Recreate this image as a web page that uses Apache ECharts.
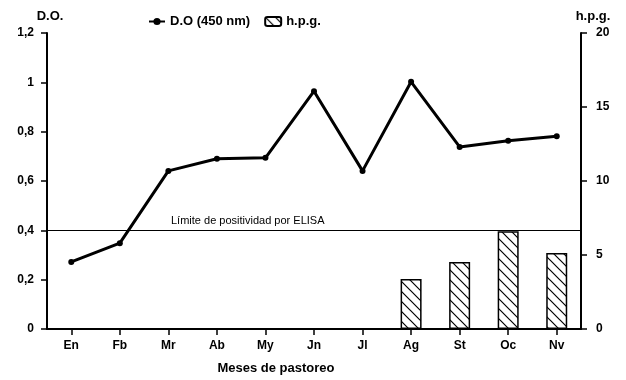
<!DOCTYPE html>
<html>
<head>
<meta charset="utf-8">
<script src="https://cdn.jsdelivr.net/npm/echarts@6/dist/echarts.min.js"></script>
<style>html,body{margin:0;padding:0;background:#fff}#c{width:626px;height:380px}</style>
</head>
<body>
<div id="c"></div>
<script>
const categories = ['En','Fb','Mr','Ab','My','Jn','Jl','Ag','St','Oc','Nv'];
const doValues = [0.272, 0.348, 0.641, 0.690, 0.694, 0.964, 0.641, 1.002, 0.738, 0.763, 0.781];
const hpgValues = [null, null, null, null, null, null, null, 3.37, 4.52, 6.6, 5.14];
const leftTicks = {min: 0, max: 1.2, interval: 0.2};
const rightTicks = {min: 0, max: 20, interval: 5};
const limitValue = 0.4;

const pc = document.createElement('canvas');
pc.width = 10; pc.height = 10;
const g = pc.getContext('2d');
g.fillStyle = '#fff'; g.fillRect(0,0,10,10);
g.strokeStyle = '#000'; g.lineWidth = 1.2;
g.beginPath();
g.moveTo(0,0); g.lineTo(10,10);
g.moveTo(-2,8); g.lineTo(2,12);
g.moveTo(8,-2); g.lineTo(12,2);
g.stroke();

const FONT = '"Liberation Sans", Arial, sans-serif';
const chart = echarts.init(document.getElementById('c'), null, {renderer: 'canvas'});
const axisCommon = {
  axisLine: {show: true, lineStyle: {color: '#000', width: 2}},
  axisTick: {show: true, length: 6, lineStyle: {color: '#000', width: 1.5}},
  splitLine: {show: false}
};
chart.setOption({
  animation: false,
  textStyle: {fontFamily: FONT},
  grid: {left: 47, right: 45, top: 33, bottom: 46, containLabel: false},
  legend: {
    top: 10, left: 143, itemGap: 14, itemWidth: 16, itemHeight: 9,
    textStyle: {fontFamily: FONT, fontWeight: 'bold', fontSize: 13, color: '#000'},
    data: [{name: 'D.O (450 nm)'}, {name: 'h.p.g.'}]
  },
  xAxis: {
    type: 'category', data: categories, boundaryGap: true,
    name: 'Meses de pastoreo', nameLocation: 'middle', nameGap: 33,
    nameTextStyle: {fontFamily: FONT, fontWeight: 'bold', fontSize: 13, color: '#000', padding: [0, 76, 0, 0]},
    axisLine: {show: true, lineStyle: {color: '#000', width: 2}},
    axisTick: {show: true, alignWithLabel: true, length: 6, lineStyle: {color: '#000', width: 1.5}},
    axisLabel: {fontFamily: FONT, fontWeight: 'bold', fontSize: 12, color: '#000', margin: 11},
    splitLine: {show: false}
  },
  yAxis: [
    Object.assign({
      type: 'value', position: 'left', min: leftTicks.min, max: leftTicks.max, interval: leftTicks.interval,
      name: 'D.O.', nameLocation: 'end', nameGap: 10,
      nameTextStyle: {fontFamily: FONT, fontWeight: 'bold', fontSize: 13, color: '#000', padding: [0, 0, 0, 6]},
      axisLabel: {fontFamily: FONT, fontWeight: 'bold', fontSize: 12, color: '#000', margin: 13,
        formatter: v => String(Math.round(v * 10) / 10).replace('.', ',')}
    }, axisCommon),
    Object.assign({
      type: 'value', position: 'right', min: rightTicks.min, max: rightTicks.max, interval: rightTicks.interval,
      name: 'h.p.g.', nameLocation: 'end', nameGap: 10,
      nameTextStyle: {fontFamily: FONT, fontWeight: 'bold', fontSize: 13, color: '#000', padding: [0, 0, 0, 24]},
      axisLabel: {fontFamily: FONT, fontWeight: 'bold', fontSize: 12, color: '#000', margin: 15}
    }, axisCommon)
  ],
  series: [
    {
      name: 'h.p.g.', type: 'bar', yAxisIndex: 1, data: hpgValues, barWidth: 21,
      itemStyle: {color: {image: pc, repeat: 'repeat'}, borderColor: '#000', borderWidth: 1.5},
      z: 1
    },
    {
      name: 'D.O (450 nm)', type: 'line', yAxisIndex: 0, data: doValues,
      symbol: 'circle', symbolSize: 6,
      lineStyle: {color: '#000', width: 3},
      itemStyle: {color: '#000'},
      z: 3,
      markLine: {
        silent: true, symbol: 'none', animation: false,
        lineStyle: {color: '#000', width: 1.2, type: 'solid'},
        label: {show: true, position: 'insideStartTop', formatter: 'Límite de positividad por ELISA',
          fontFamily: FONT, fontSize: 11, color: '#000', padding: [0, 0, 0, 120], distance: 4},
        data: [{yAxis: limitValue}]
      }
    }
  ]
});
</script>
</body>
</html>
